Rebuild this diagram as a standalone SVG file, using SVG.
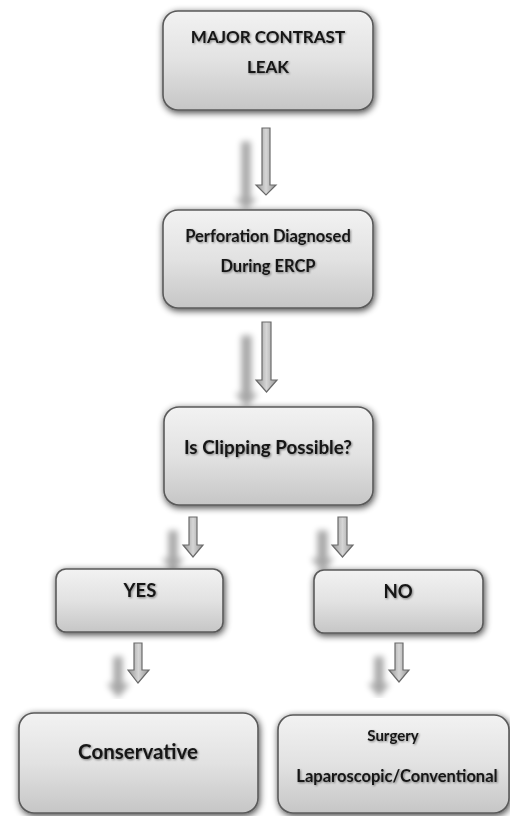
<svg xmlns="http://www.w3.org/2000/svg" width="510" height="816" viewBox="0 0 510 816">
<defs>
  <linearGradient id="boxFill" x1="0" y1="0" x2="0" y2="1">
    <stop offset="0" stop-color="#f2f2f2"/>
    <stop offset="0.5" stop-color="#e2e2e2"/>
    <stop offset="1" stop-color="#c6c6c6"/>
  </linearGradient>
  <linearGradient id="arrowFill" x1="0" y1="0" x2="1" y2="0">
    <stop offset="0" stop-color="#939393"/>
    <stop offset="0.5" stop-color="#d6d6d6"/>
    <stop offset="1" stop-color="#939393"/>
  </linearGradient>
  <filter id="boxShadow" x="-15%" y="-20%" width="130%" height="145%">
    <feGaussianBlur in="SourceAlpha" stdDeviation="3.5"/>
    <feOffset dx="1" dy="2" result="b"/>
    <feComponentTransfer><feFuncA type="linear" slope="0.75"/></feComponentTransfer>
    <feMerge><feMergeNode/><feMergeNode in="SourceGraphic"/></feMerge>
  </filter>
  <filter id="arrowShadow" x="-300%" y="-30%" width="500%" height="170%">
    <feGaussianBlur in="SourceAlpha" stdDeviation="3"/>
    <feOffset dx="-20" dy="14"/>
    <feComponentTransfer><feFuncA type="linear" slope="0.35"/></feComponentTransfer>
    <feMerge><feMergeNode/><feMergeNode in="SourceGraphic"/></feMerge>
  </filter>
  <filter id="textShadow" x="-10%" y="-40%" width="120%" height="180%">
    <feGaussianBlur in="SourceAlpha" stdDeviation="1.2"/>
    <feOffset dx="0.5" dy="1"/>
    <feComponentTransfer><feFuncA type="linear" slope="0.45"/></feComponentTransfer>
    <feMerge><feMergeNode/><feMergeNode in="SourceGraphic"/></feMerge>
  </filter>
</defs>
<style>
  .box { fill: url(#boxFill); stroke: #5a5a5a; stroke-width: 1.6; filter: url(#boxShadow); }
  .arrow { fill: url(#arrowFill); stroke: #6a6a6a; stroke-width: 1.2; filter: url(#arrowShadow); }
  text { font-family: Lato, "Liberation Sans", sans-serif; font-weight: bold; fill: #151515; text-anchor: middle; filter: url(#textShadow); }
</style>
<rect width="510" height="816" fill="#ffffff"/>

<g id="connectors">
  <path class="arrow" d="M262,128 H270 V185 H276 L266,195 L256,185 H262 Z"/>
  <path class="arrow" d="M262,322 H271 V380 H277 L266.5,392 L256,380 H262 Z"/>
  <path class="arrow" d="M189,517 H197 V545 H203 L193,557 L183,545 H189 Z"/>
  <path class="arrow" d="M338,517 H347 V545 H353 L342.5,557 L332,545 H338 Z"/>
  <path class="arrow" d="M134,643 H142 V670 H149 L138,683 L128,670 H134 Z"/>
  <path class="arrow" d="M395,643 H403 V670 H409 L399,682 L389,670 H395 Z"/>
</g>

<g id="node-major-contrast-leak">
  <rect class="box" x="163" y="11" width="210" height="99" rx="15"/>
  <text x="268" y="43" font-size="17">MAJOR CONTRAST</text>
  <text x="268" y="73" font-size="17">LEAK</text>
</g>

<g id="node-perforation">
  <rect class="box" x="163" y="210" width="210" height="98" rx="15"/>
  <text x="268" y="242" font-size="16.5">Perforation Diagnosed</text>
  <text x="268" y="272" font-size="16.5">During ERCP</text>
</g>

<g id="node-clipping">
  <rect class="box" x="164" y="407" width="209" height="98" rx="15"/>
  <text x="268" y="454" font-size="18.8">Is Clipping Possible?</text>
</g>

<g id="node-yes">
  <rect class="box" x="56" y="569" width="167" height="63" rx="10"/>
  <text x="140" y="597" font-size="18.5">YES</text>
</g>

<g id="node-no">
  <rect class="box" x="314" y="570" width="169" height="63" rx="10"/>
  <text x="398" y="598" font-size="18.5">NO</text>
</g>

<g id="node-conservative">
  <rect class="box" x="19" y="713" width="239" height="100" rx="15"/>
  <text x="138" y="759" font-size="20.5">Conservative</text>
</g>

<g id="node-surgery">
  <rect class="box" x="278" y="715" width="231" height="98" rx="15"/>
  <text x="393" y="741" font-size="15">Surgery</text>
  <text x="397" y="782" font-size="16.5">Laparoscopic/Conventional</text>
</g>
</svg>
